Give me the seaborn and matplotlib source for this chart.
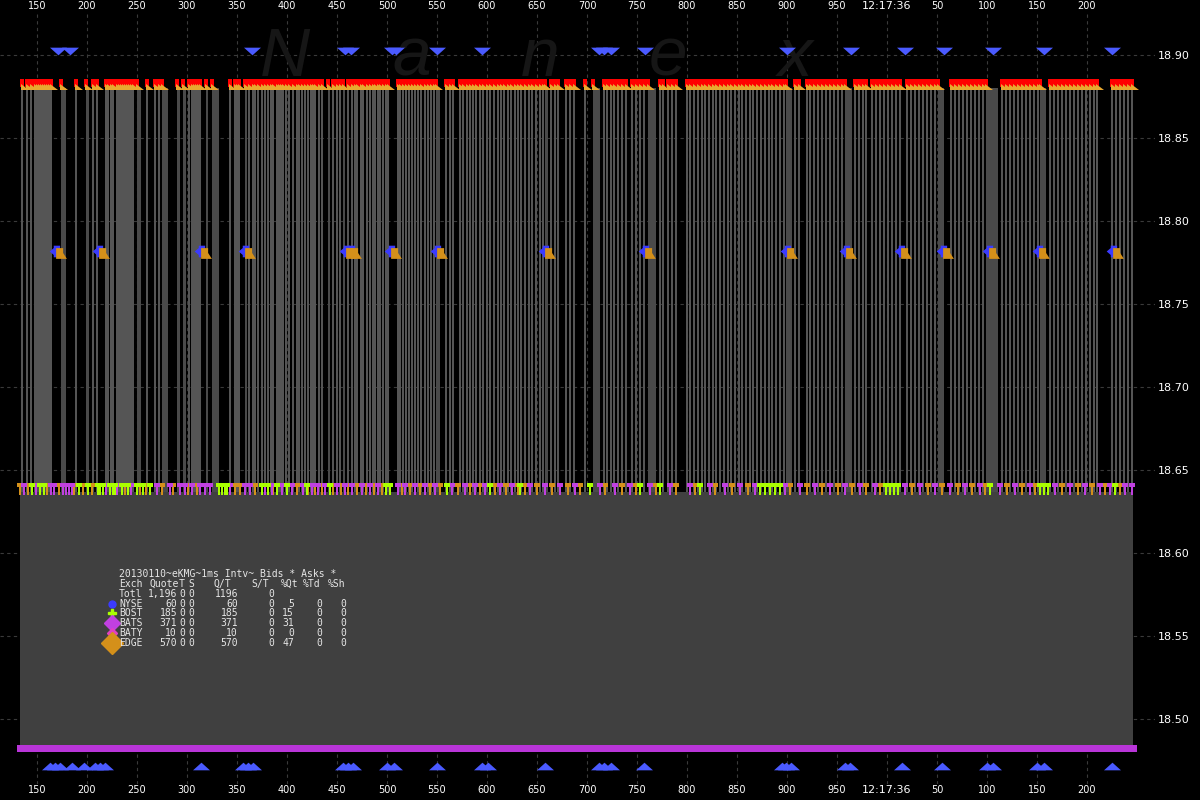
import matplotlib
matplotlib.use("Agg")
import matplotlib.pyplot as plt
import seaborn as sns

# ================== DATA (ms after 12:17:35, price) ==================

tick_ms = [150, 200, 250, 300, 350, 400, 450, 500, 550, 600, 650, 700, 750,
           800, 850, 900, 950, 1000, 1050, 1100, 1150, 1200]
tick_labels = ["150", "200", "250", "300", "350", "400", "450", "500", "550",
               "600", "650", "700", "750", "800", "850", "900", "950",
               "12:17:36", "50", "100", "150", "200"]
price_ticks = [18.50, 18.55, 18.60, 18.65, 18.70, 18.75, 18.80, 18.85, 18.90]

ask_price = 18.880
bid_price = 18.637
mid_price = 18.7807
low_bid = 18.4843

# thin spread stripes (ms)
stripes = [135, 140, 144, 148, 150, 152, 154, 156, 158, 160, 162, 164, 189, 206, 210,
           219, 221, 224, 226, 230, 232, 234, 236, 238, 240, 242, 244, 246, 260, 268,
           272, 302, 305, 307, 309, 311, 313, 343, 348, 350, 352, 362, 366, 368, 371,
           375, 378, 381, 384, 386, 390, 392, 394, 396, 399, 402, 406, 410, 412, 415,
           418, 421, 424, 426, 428, 432, 435, 446, 450, 453, 461, 465, 468, 470, 474,
           476, 480, 483, 486, 488, 491, 493, 496, 499, 501, 511,
           513, 516, 519, 522, 525, 528, 531, 534, 538, 541, 544, 547, 559, 563, 566,
           573, 576, 580, 583, 586, 589, 593, 596, 600, 603, 607, 611, 614, 617, 621,
           624, 628, 631, 634, 638, 642, 645, 649, 653, 656, 664, 668, 671, 679, 683,
           687, 698, 717, 720, 724, 727, 731, 735, 739, 745, 749, 753, 757, 773, 776,
           781, 785, 789, 800, 803, 807, 811, 815, 818, 822, 826, 829, 833, 837, 841,
           844, 848, 852, 855, 859, 863, 866, 870, 874, 878, 882, 885, 889, 893, 897,
           908, 912, 920, 923, 927, 931, 935, 939, 943, 947, 951, 955, 968, 972, 976,
           979, 985, 989, 993, 997, 1001, 1005, 1009, 1013, 1020, 1024, 1028, 1032,
           1036, 1040, 1044, 1048, 1064, 1068, 1072, 1076, 1080, 1084, 1088, 1092,
           1096, 1115, 1119, 1123, 1127, 1131, 1135, 1139, 1143, 1147, 1151, 1163,
           1167, 1171, 1175, 1179, 1183, 1187, 1191, 1195, 1199, 1203, 1207, 1210,
           1225, 1229, 1233, 1237, 1241, 1245]
wide_start = [174, 199, 250, 275, 290, 296, 319, 325, 358, 441, 456,
              549, 658, 706, 761, 899, 958, 1051, 1099, 1153]
wide_end = [179, 202, 254, 281, 293, 299, 321, 332, 360, 443, 458,
            553, 661, 713, 769, 905, 965, 1057, 1111, 1159]

# bid quotes by exchange
bost_bids = [145, 153, 157, 192, 201, 211, 213, 216, 223, 226, 228, 235, 241, 250, 256,
             263, 332, 335, 338, 340, 375, 381, 390, 400, 420, 443, 499, 503, 560, 603,
             633, 703, 753, 773, 813, 873, 878, 883, 888, 893, 999, 1003, 1007, 1011,
             1103, 1153, 1157, 1161, 1228]
bats_bids = [137, 149, 164, 167, 176, 179, 182, 185, 219, 230, 244, 270, 283, 293, 298,
             305, 313, 318, 323, 343, 358, 363, 378, 385, 395, 405, 416, 425, 431, 438,
             450, 458, 465, 475, 483, 491, 511, 518, 528, 538, 548, 565, 578, 588, 598,
             613, 625, 643, 658, 673, 688, 713, 728, 743, 763, 783, 803, 823, 838, 853,
             868, 898, 913, 928, 943, 958, 973, 988, 1018, 1033, 1048, 1063, 1078, 1093,
             1113, 1128, 1143, 1168, 1183, 1198, 1213, 1223, 1238, 1245]
edge_bids = [133, 141, 160, 172, 187, 196, 205, 238, 253, 259, 275, 286, 301, 310, 348,
             353, 368, 386, 410, 421, 428, 435, 446, 454, 461, 470, 479, 487, 495, 515,
             523, 533, 543, 553, 571, 583, 593, 608, 619, 631, 638, 650, 665, 681, 693,
             718, 735, 749, 769, 789, 808, 828, 845, 861, 903, 920, 935, 951, 965, 979,
             993, 1025, 1041, 1055, 1071, 1085, 1098, 1120, 1135, 1148, 1175, 1191, 1205,
             1218, 1233]

# NYSE quotes
nyse_ask = [171, 183, 365, 458, 464, 505, 509, 550, 595, 712, 717, 724, 758, 900, 964,
            1018, 1057, 1106, 1157, 1225]
nyse_bid = [163, 168, 173, 185, 197, 208, 213, 218, 314, 356, 361, 366, 456, 461, 466,
            500, 507, 550, 595, 601, 658, 712, 717, 724, 757, 895, 899, 904, 958, 963,
            1015, 1055, 1100, 1106, 1150, 1157, 1225]
mid_blue = [168, 211, 313, 357, 458, 463, 503, 549, 657, 757, 899, 958, 1013, 1055,
            1101, 1151, 1225]

exch_names = ["NYSE", "BOST", "BATS", "BATY", "EDGE"]
exch_quotes = ["60", "185", "371", "10", "570"]
exch_qt = ["60", "185", "371", "10", "570"]
exch_pct = ["5", "15", "31", "0", "47"]
exch_colors = ["#3b3bff", "#aaff00", "#c040e0", "#e040c0", "#d4901a"]

# ================== PLOT ==================

sns.set_theme(style="dark", rc={"axes.facecolor": "black", "figure.facecolor": "black"})
plt.rcParams['font.family'] = ['DejaVu Sans']

fig = plt.figure(figsize=(12, 8), dpi=100)
ax = fig.add_axes([0, 0.02, 0.9625, 0.965])
ax.set_facecolor("black")
ax.set_xlim(113, 1268)
ax.set_ylim(18.4608, 18.9259)

ax.grid(True, color="#3a3a3a", linestyle=(0, (3, 3)), linewidth=0.8)
ax.set_axisbelow(True)
for s in ax.spines.values():
    s.set_visible(False)

# gray lower block and magenta low bid
ax.fill_between([133, 1246], low_bid, bid_price, color="#404040", zorder=1, linewidth=0)
ax.fill_between([130, 1250], 18.4801, low_bid, color="#b935d9", zorder=2, linewidth=0)

# spread stripes
ax.bar(stripes, ask_price - bid_price, width=1.1, bottom=bid_price,
       color="#555555", linewidth=0, zorder=1, antialiased=False)
ax.bar(wide_start, ask_price - bid_price, width=[e - s for s, e in zip(wide_start, wide_end)],
       bottom=bid_price, align="edge", color="#4a4a4a", linewidth=0, zorder=1,
       antialiased=False)

# ask markers
rect = [(-0.55, -1), (0.55, -1), (0.55, 1), (-0.55, 1)]
wedge = [(-1, 0.7), (-1, -0.7), (1, -0.7)]
ask_x = stripes + wide_start
sns.scatterplot(x=ask_x, y=[18.8830] * len(ask_x), marker=rect, s=26, color="#ff0000",
                linewidth=0, ax=ax, zorder=4)
sns.scatterplot(x=[v + 3 for v in ask_x], y=[18.8808] * len(ask_x), marker=wedge, s=30,
                color="#e8a830", linewidth=0, ax=ax, zorder=5)

# bid markers
tee = [(-0.6, 1), (0.6, 1), (0.6, 0.3), (0.2, 0.3), (0.2, -1), (-0.2, -1), (-0.2, 0.3), (-0.6, 0.3)]
for xs, c in [(edge_bids, "#d4901a"), (bats_bids, "#c040e0"), (bost_bids, "#aaff00")]:
    sns.scatterplot(x=xs, y=[18.6385] * len(xs), marker=tee, s=64, color=c,
                    linewidth=0, ax=ax, zorder=5)

# NYSE triangles
down = [(-1, 0.45), (1, 0.45), (0, -0.45)]
up = [(-1, -0.45), (1, -0.45), (0, 0.45)]
sns.scatterplot(x=nyse_ask, y=[18.9027] * len(nyse_ask), marker=down, s=150,
                color="#4a5aff", linewidth=0, ax=ax, zorder=5)
sns.scatterplot(x=nyse_bid, y=[18.4717] * len(nyse_bid), marker=up, s=150,
                color="#4a5aff", linewidth=0, ax=ax, zorder=5)

# middle markers
blue_mk = [(-1, 0), (-0.3, 0.6), (-0.3, 1), (0.8, 1), (0.8, -1), (-0.3, -1), (-0.3, -0.6)]
org_mk = [(-1, 1), (0.3, 1), (0.3, 0.1), (1, -1), (-1, -1)]
sns.scatterplot(x=mid_blue, y=[mid_price + 0.001] * len(mid_blue), marker=blue_mk, s=70,
                color="#3b3bff", linewidth=0, ax=ax, zorder=5)
sns.scatterplot(x=[v + 6 for v in mid_blue], y=[mid_price] * len(mid_blue), marker=org_mk,
                s=60, color="#d4901a", linewidth=0, ax=ax, zorder=6)

# ticks
ax.set_xticks(tick_ms)
ax.set_xticklabels(tick_labels)
ax.tick_params(axis="x", top=True, labeltop=True, bottom=True, labelbottom=True,
               length=0, pad=1, labelsize=7, colors="white")
for t in ax.xaxis.get_major_ticks():
    size = 8 if t.label1.get_text() == "12:17:36" else 7
    t.label1.set_fontsize(size)
    t.label2.set_fontsize(size)
ax.yaxis.tick_right()
ax.set_yticks(price_ticks)
ax.set_yticklabels([f"{p:.2f}" for p in price_ticks])
ax.tick_params(axis="y", length=0, pad=2, labelsize=8, colors="white")
ax.set_xlabel("")
ax.set_ylabel("")

# watermark
for ch, px in zip("Nanex", [285, 412, 540, 668, 795]):
    ax.text(px / 1200, 1 - 76 / 800, ch, fontsize=50, style="italic", color="#161616",
            ha="center", va="baseline", family="Liberation Sans", zorder=0.6,
            transform=fig.transFigure)

# stats table
mono = "DejaVu Sans Mono"
tc = "#e6e6e6"
rows_y = [574, 584, 594, 604, 613, 623, 633, 643]


def put(px, py, s, ha="left"):
    fig.text(px / 1200, 1 - py / 800, s, fontsize=7, family=mono, color=tc, ha=ha, va="center")


put(119, rows_y[0], "20130110~eKMG~1ms Intv~ Bids * Asks *")
put(119, rows_y[1], "Exch")
put(149, rows_y[1], "Quote")
put(182, rows_y[1], "T", "center")
put(191.5, rows_y[1], "S", "center")
for h, hx in zip(["Q/T", "S/T", "%Qt", "%Td", "%Sh"], [214, 251, 281, 303, 328]):
    put(hx, rows_y[1], h)
put(119, rows_y[2], "Totl")
put(177, rows_y[2], "1,196", "right")
put(182, rows_y[2], "0", "center")
put(191.5, rows_y[2], "0", "center")
put(238, rows_y[2], "1196", "right")
put(271.5, rows_y[2], "0", "center")

legend_mk = [("o", 5), ("P", 5.5), ("D", 8.5), ("D", 5), ("D", 11)]
for i, name in enumerate(exch_names):
    py = rows_y[3 + i]
    put(119, py, name)
    put(177, py, exch_quotes[i], "right")
    put(182, py, "0", "center")
    put(191.5, py, "0", "center")
    put(238, py, exch_qt[i], "right")
    put(271.5, py, "0", "center")
    put(294, py, exch_pct[i], "right")
    put(319, py, "0", "center")
    put(343.5, py, "0", "center")
    m, ms = legend_mk[i]
    fig.lines.append(plt.Line2D([112 / 1200], [1 - py / 800], marker=m, markersize=ms,
                                color=exch_colors[i], linestyle="none", transform=fig.transFigure))

fig.savefig("out.png", dpi=100, facecolor="black")
